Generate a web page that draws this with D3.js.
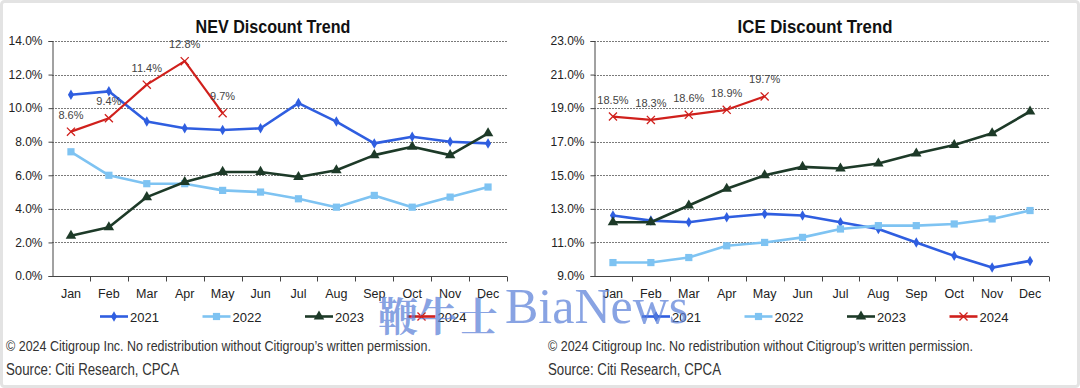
<!DOCTYPE html>
<html>
<head>
<meta charset="utf-8">
<script src="https://cdn.jsdelivr.net/npm/d3@7"></script>
<style>
  html, body { margin: 0; padding: 0; background: #fff; }
  svg { display: block; }
  text { font-family: "Liberation Sans", Arial, sans-serif; }
</style>
</head>
<body>
<div id="chart"></div>
<script>
const width = 1080,
  height = 388;

const months = ['Jan', 'Feb', 'Mar', 'Apr', 'May', 'Jun', 'Jul', 'Aug', 'Sep', 'Oct', 'Nov', 'Dec'];
const years = ['2021', '2022', '2023', '2024'];

// NEV discount (%)
const nev2021 = [10.8, 11.0, 9.2, 8.8, 8.7, 8.8, 10.3, 9.2, 7.9, 8.3, 8.0, 7.9];
const nev2022 = [7.4, 6.0, 5.5, 5.5, 5.1, 5.0, 4.6, 4.1, 4.8, 4.1, 4.7, 5.3];
const nev2023 = [2.4, 2.9, 4.7, 5.6, 6.2, 6.2, 5.9, 6.3, 7.2, 7.7, 7.2, 8.5];
const nev2024 = [8.6, 9.4, 11.4, 12.8, 9.7];
const nevTicks = [0, 2, 4, 6, 8, 10, 12, 14];

// ICE discount (%)
const ice2021 = [12.6, 12.3, 12.2, 12.5, 12.7, 12.6, 12.2, 11.8, 11.0, 10.2, 9.5, 9.9];
const ice2022 = [9.8, 9.8, 10.1, 10.8, 11.0, 11.3, 11.8, 12.0, 12.0, 12.1, 12.4, 12.9];
const ice2023 = [12.2, 12.2, 13.2, 14.2, 15.0, 15.5, 15.4, 15.7, 16.3, 16.8, 17.5, 18.8];
const ice2024 = [18.5, 18.3, 18.6, 18.9, 19.7];
const iceTicks = [9, 11, 13, 15, 17, 19, 21, 23];

const footnote = '\u00a9 2024 Citigroup Inc. No redistribution without Citigroup\u2019s written permission.';
const source = 'Source: Citi Research, CPCA';

const colors = ['#2f5ee0', '#7ec3f2', '#1d3a28', '#d0201c'];
const symbols = [
  { type: d3.symbolDiamond, size: 32 },
  { type: d3.symbolSquare, size: 52 },
  { type: d3.symbolTriangle, size: 48 },
  { type: d3.symbolX, size: 44 }
];

const svg = d3.select('#chart').append('svg')
  .attr('width', width)
  .attr('height', height);

// outer frame
svg.append('rect')
  .attr('x', 1.5).attr('y', 1.5)
  .attr('width', width - 3).attr('height', height - 3)
  .attr('rx', 3)
  .attr('fill', '#fff')
  .attr('stroke', '#e3e3e3')
  .attr('stroke-width', 3);

function drawMarker(g, i, x, y) {
  const s = symbols[i];
  const p = g.append('path')
    .attr('transform', `translate(${x},${y})`)
    .attr('d', d3.symbol().type(s.type).size(s.size)());
  if (i === 3) {
    p.attr('fill', 'none').attr('stroke', colors[i]).attr('stroke-width', 1.3);
  } else {
    p.attr('fill', colors[i]);
  }
}

function drawPanel(ox, title, ticks, series, labelled) {
  const g = svg.append('g').attr('transform', `translate(${ox},0)`);

  const x = d3.scaleBand()
    .domain(months)
    .range([52, 507]);

  const y = d3.scaleLinear()
    .domain([ticks[0], ticks[ticks.length - 1]])
    .range([276, 41]);

  // title (condensed bold)
  g.append('text')
    .attr('x', 273)
    .attr('y', 33)
    .attr('text-anchor', 'middle')
    .attr('font-size', 18)
    .attr('font-weight', 'bold')
    .attr('fill', '#111')
    .attr('textLength', title.length * 8.6)
    .attr('lengthAdjust', 'spacingAndGlyphs')
    .text(title);

  // dotted grid
  g.append('g')
    .selectAll('line')
    .data(ticks.slice(1))
    .join('line')
      .attr('x1', 52)
      .attr('x2', 507)
      .attr('y1', (d) => Math.round(y(d)) + 0.5)
      .attr('y2', (d) => Math.round(y(d)) + 0.5)
      .attr('stroke', '#7a7a7a')
      .attr('stroke-width', 1)
      .attr('stroke-dasharray', '2,1');

  // y axis
  const yAxis = g.append('g')
    .attr('transform', 'translate(52.5,0)')
    .call(d3.axisLeft(y).tickValues(ticks).tickSize(4).tickPadding(6)
      .tickFormat((d) => d.toFixed(1) + '%'));
  yAxis.select('.domain').attr('stroke', '#444');
  yAxis.selectAll('.tick line').attr('stroke', '#444');
  yAxis.selectAll('text').attr('font-size', 12).attr('fill', '#222');

  // x axis with ticks at the category boundaries
  const xAxis = g.append('g')
    .attr('transform', `translate(0,${y(ticks[0]) + 0.5})`);
  xAxis.append('line')
    .attr('x1', 52).attr('x2', 507)
    .attr('stroke', '#444');
  xAxis.selectAll('.bound')
    .data(months)
    .join('line')
      .attr('class', 'bound')
      .attr('x1', (d) => Math.round(x(d) + x.bandwidth()) + 0.5)
      .attr('x2', (d) => Math.round(x(d) + x.bandwidth()) + 0.5)
      .attr('y1', 0).attr('y2', 5)
      .attr('stroke', '#444');
  xAxis.selectAll('.mlabel')
    .data(months)
    .join('text')
      .attr('class', 'mlabel')
      .attr('x', (d) => x(d) + x.bandwidth() / 2)
      .attr('y', 21)
      .attr('text-anchor', 'middle')
      .attr('font-size', 12.5)
      .attr('fill', '#222')
      .text((d) => d);

  const line = d3.line()
    .x((d, i) => x(months[i]) + x.bandwidth() / 2)
    .y((d) => y(d));

  series.forEach((vals, si) => {
    g.append('path')
      .datum(vals)
      .attr('fill', 'none')
      .attr('stroke', colors[si])
      .attr('stroke-width', si === 3 ? 2.2 : 2.6)
      .attr('stroke-linejoin', 'round')
      .attr('d', line);
    vals.forEach((v, i) => {
      drawMarker(g, si, x(months[i]) + x.bandwidth() / 2, y(v));
    });
  });

  // data labels for the 2024 series
  g.append('g')
    .selectAll('text')
    .data(series[labelled])
    .join('text')
      .attr('x', (d, i) => x(months[i]) + x.bandwidth() / 2)
      .attr('y', (d) => y(d) - 13)
      .attr('text-anchor', 'middle')
      .attr('font-size', 11)
      .attr('fill', '#444')
      .text((d) => d.toFixed(1) + '%');

  // legend
  const legend = g.append('g')
    .selectAll('g')
    .data(years)
    .join('g')
      .attr('transform', (d, i) => `translate(${100 + i * 102.5},316.5)`);
  legend.append('line')
    .attr('x1', 0).attr('x2', 28)
    .attr('stroke', (d, i) => colors[i])
    .attr('stroke-width', 2.6);
  legend.each(function (d, i) {
    drawMarker(d3.select(this), i, 14, 0);
  });
  legend.append('text')
    .attr('x', 30)
    .attr('y', 5)
    .attr('font-size', 13)
    .attr('fill', '#222')
    .text((d) => d);

  // footer
  g.append('text')
    .attr('x', 6)
    .attr('y', 351)
    .attr('font-size', 15)
    .attr('fill', '#333')
    .attr('textLength', 425)
    .attr('lengthAdjust', 'spacingAndGlyphs')
    .text(footnote);
  g.append('text')
    .attr('x', 6)
    .attr('y', 375)
    .attr('font-size', 16)
    .attr('fill', '#333')
    .attr('textLength', 173)
    .attr('lengthAdjust', 'spacingAndGlyphs')
    .text(source);
}

drawPanel(0, 'NEV Discount Trend', nevTicks, [nev2021, nev2022, nev2023, nev2024], 3);
drawPanel(542, 'ICE Discount Trend', iceTicks, [ice2021, ice2022, ice2023, ice2024], 3);

// watermark
const wm = svg.append('g').attr('fill', '#5a80d8').attr('fill-opacity', 0.72);
wm.append('text')
  .attr('x', 378)
  .attr('y', 331)
  .style('font-family', '"Noto Serif CJK SC", "Noto Sans CJK SC", serif')
  .attr('font-size', 40)
  .attr('font-weight', 'bold')
  .text('鞭牛士');
wm.append('text')
  .attr('x', 505)
  .attr('y', 323)
  .style('font-family', '"Liberation Serif", "DejaVu Serif", serif')
  .attr('font-size', 50)
  .text('BiaNews');
</script>
</body>
</html>
